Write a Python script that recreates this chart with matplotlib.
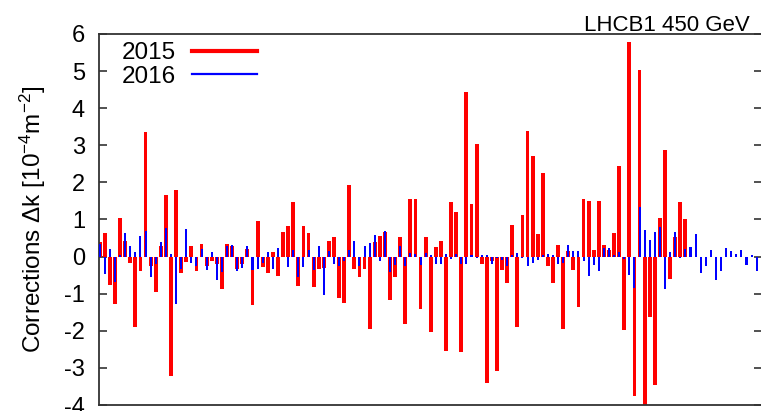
import numpy as np
import matplotlib
matplotlib.use("Agg")
import matplotlib.pyplot as plt
from matplotlib.lines import Line2D

plt.rcParams['font.family'] = ['Liberation Sans', 'DejaVu Sans']
plt.rcParams['mathtext.fontset'] = 'custom'
plt.rcParams['mathtext.rm'] = 'Liberation Sans'
plt.rcParams['mathtext.it'] = 'Liberation Sans:italic'

# corrections per element, 2015 and 2016
k2015 = [0.40, 0.64, -0.76, -1.28, 1.04, 0.41, -0.17, -1.89, -0.38, 3.36,
         -0.26, -0.95, 0.29, 1.67, -3.22, 1.79, -0.45, -0.15, 0.29, -0.38,
         0.33, -0.25, -0.11, -0.20, -0.87, 0.34, 0.29, -0.33, -0.20, 0.20,
         -1.31, 0.97, -0.29, -0.45, 0.13, -0.51, 0.67, 0.83, 1.46, -0.78,
         0.83, 0.64, -0.83, -0.33, -0.30, 0.43, 0.54, -1.12, -1.24, 1.92,
         -0.34, -0.56, -0.34, -1.96, 0.39, 0.56, 0.66, -1.16, -0.54, 0.54,
         -1.82, 1.54, 1.56, -1.41, 0.54, -2.02, 0.27, 0.42, -2.55, 1.47,
         1.20, -2.56, 4.45, 1.41, 3.03, -0.19, -3.41, -0.11, -3.09, -0.36,
         -0.70, 0.84, -1.90, 1.13, 3.39, 2.70, 0.62, 2.26, -0.26, -0.71,
         0.31, -1.95, 0.16, -0.36, -1.35, 1.54, 1.50, 0.17, 1.50, 0.30,
         0.19, 0.63, 2.43, -1.99, 5.79, -3.76, 5.03, -4.30, -1.64, -3.46,
         1.03, 2.86, -0.60, 0.54, 1.48, 1.01]

k2016 = [0.35, -0.47, 0.20, -0.68, 0.05, 0.63, 0.29, 0.12, 0.56, 0.70,
         -0.56, -0.20, 0.39, 0.78, 0.07, -1.28, -0.33, 0.74, -0.16, -0.24,
         0.20, -0.36, 0.12, -0.63, -0.42, 0.29, 0.31, -0.40, -0.31, 0.28,
         -0.35, -0.33, -0.18, 0.12, -0.33, 0.22, -0.02, -0.29, 0.18, -0.56,
         -0.29, 0.18, -0.36, 0.28, -1.04, 0.16, -0.20, -0.24, -0.13, 0.19,
         0.43, -0.24, 0.28, 0.36, 0.58, -0.11, 0.68, -0.42, -0.22, 0.29,
         -0.26, 0.09, 0.07, -0.23, 0.11, 0.04, -0.20, -0.20, 0.07, -0.07,
         0.07, -0.20, -0.20, 0.05, -0.04, 0.03, 0.04, -0.20, -0.05, -0.09,
         -0.24, 0.05, 0.10, -0.05, -0.26, -0.17, -0.09, 0.05, 0.07, 0.04,
         -0.20, -0.17, 0.30, 0.15, 0.14, -0.11, -0.52, -0.23, -0.40, 0.23,
         0.22, 0.05, 0.12, -0.07, -0.49, -0.85, 1.33, 0.72, 0.45, 0.67,
         0.81, -0.87, 0.12, 0.66, -0.04, 0.21, 0.27, 0.61, -0.44, -0.24,
         0.19, -0.64, -0.40, 0.23, 0.16, 0.07, 0.19, -0.22, 0.04, -0.38]

yticks = [-4, -3, -2, -1, 0, 1, 2, 3, 4, 5, 6]

fig = plt.figure(figsize=(7.61, 4.11), dpi=100)
ax = fig.add_axes([99 / 761, 6 / 411, 663 / 761, 371 / 411])

x15 = np.arange(len(k2015))
x16 = np.arange(len(k2016))
ax.bar(x15, k2015, width=0.75, color='#ff0000', linewidth=0, zorder=2)
ax.bar(x16, k2016, width=0.4, color='#0000ff', linewidth=0, zorder=3)

ax.set_xlim(-0.14, 130.04)
ax.set_ylim(-4, 6)
ax.set_xticks([])
ax.set_yticks(yticks)
ax.set_yticklabels([str(t) for t in yticks])
ax.tick_params(axis='y', direction='in', length=6, width=1.2, right=True,
               labelsize=17, pad=10, color='#333333')
for s in ax.spines.values():
    s.set_linewidth(1.3)
    s.set_color('#333333')

ax.set_ylabel(r'Corrections $\Delta$k [10$^{-4}$m$^{-2}$]', fontsize=17.5,
              labelpad=12)

handles = [Line2D([], [], color='#ff0000', lw=3),
           Line2D([], [], color='#0000ff', lw=1.6)]
ax.legend(handles, ['2015', '2016'], loc='upper left',
          bbox_to_anchor=(0.016, 1.01), frameon=False, markerfirst=False,
          fontsize=17.5, handlelength=2.7, handletextpad=0.65,
          labelspacing=0.05, borderpad=0)

fig.text(750 / 761, 380 / 411, 'LHCB1 450 GeV', fontsize=16,
         ha='right', va='baseline')

fig.savefig('out.png', dpi=100)
